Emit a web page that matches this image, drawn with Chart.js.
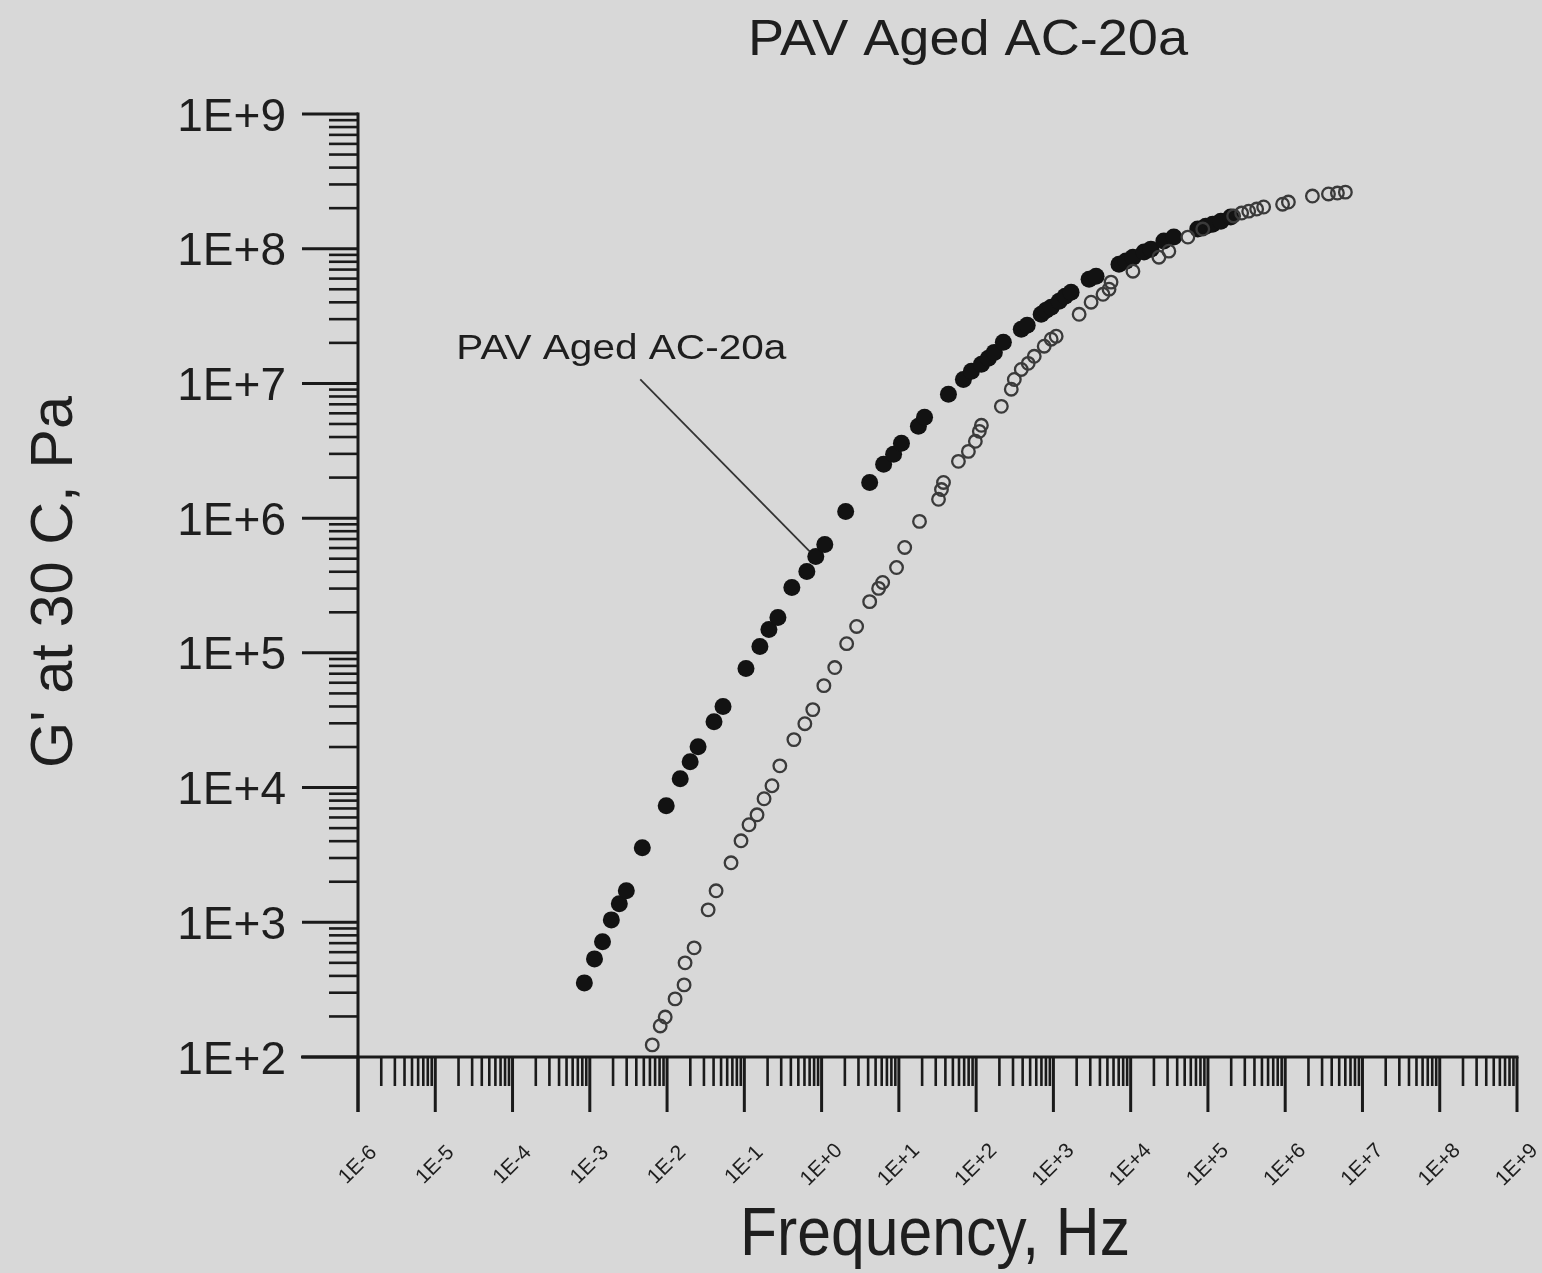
<!DOCTYPE html>
<html>
<head>
<meta charset="utf-8">
<script src="https://cdn.jsdelivr.net/npm/chart.js@4.4.1/dist/chart.umd.min.js"></script>
<style>
  html, body { margin: 0; padding: 0; background: #d8d8d8; overflow: hidden; }
  canvas { display: block; }
</style>
</head>
<body>
<canvas id="gChart" width="1542" height="1273"></canvas>
<script>
// tick labels
const xTickLabels = ['1E-6', '1E-5', '1E-4', '1E-3', '1E-2', '1E-1', '1E+0', '1E+1',
                     '1E+2', '1E+3', '1E+4', '1E+5', '1E+6', '1E+7', '1E+8', '1E+9'];
const yTickLabels = ['1E+2', '1E+3', '1E+4', '1E+5', '1E+6', '1E+7', '1E+8', '1E+9'];

// filled circles
const filledFreq = [8.5e-4, 1.15e-3, 1.46e-3, 1.90e-3, 2.41e-3, 2.97e-3, 4.78e-3, 9.75e-3, 1.48e-2, 1.99e-2,
  2.52e-2, 4.05e-2, 5.30e-2, 0.105, 0.159, 0.208, 0.272, 0.412, 0.644, 0.841,
  1.10, 2.05, 4.19, 6.35, 8.55, 10.8, 17.9, 21.5, 43.8, 68.4,
  86.9, 117, 144, 172, 225, 384, 458, 695, 807, 936,
  1186, 1419, 1694, 2897, 3565, 7063, 8690, 1.07e4, 1.49e4, 1.83e4,
  2.69e4, 3.62e4, 7.39e4, 9.38e4, 1.15e5, 1.47e5, 1.97e5];
const filledG = [355, 535, 716, 1042, 1371, 1713, 3573, 7328, 1.164e4, 1.556e4,
  2.01e4, 3.08e4, 3.99e4, 7.64e4, 1.114e5, 1.49e5, 1.83e5, 3.06e5, 4.02e5, 5.20e5,
  6.38e5, 1.12e6, 1.84e6, 2.51e6, 2.98e6, 3.59e6, 4.81e6, 5.60e6, 8.30e6, 1.07e7,
  1.23e7, 1.39e7, 1.54e7, 1.70e7, 2.02e7, 2.52e7, 2.70e7, 3.26e7, 3.50e7, 3.68e7,
  4.08e7, 4.44e7, 4.76e7, 5.94e7, 6.25e7, 7.68e7, 8.09e7, 8.65e7, 9.44e7, 9.93e7,
  1.14e8, 1.22e8, 1.40e8, 1.47e8, 1.52e8, 1.60e8, 1.72e8];

// open circles
const openFreq = [6.43e-3, 8.15e-3, 9.46e-3, 1.27e-2, 1.66e-2, 1.71e-2, 2.24e-2, 3.40e-2, 4.31e-2, 6.73e-2,
  9.06e-2, 0.115, 0.146, 0.180, 0.228, 0.288, 0.438, 0.607, 0.769, 1.07,
  1.48, 2.11, 2.84, 4.19, 5.47, 6.17, 9.33, 11.9, 18.5, 32.6,
  35.6, 37.8, 59.0, 79.4, 97.7, 110, 117, 212, 285, 312,
  384, 472, 565, 760, 936, 1086, 2153, 3076, 4385, 5248,
  5572, 1.07e4, 2.32e4, 3.12e4, 5.50e4, 8.57e4, 2.15e5, 2.73e5, 3.37e5, 4.27e5,
  5.26e5, 9.25e5, 1.10e6, 2.25e6, 3.63e6, 4.74e6, 6.01e6];
const openG = [123, 170, 198, 270, 343, 500, 646, 1237, 1713, 2765,
  4027, 5297, 6281, 8262, 1.032e4, 1.45e4, 2.27e4, 2.98e4, 3.79e4, 5.71e4,
  7.78e4, 1.17e5, 1.57e5, 2.40e5, 3.01e5, 3.33e5, 4.30e5, 6.06e5, 9.46e5, 1.38e6,
  1.63e6, 1.84e6, 2.64e6, 3.13e6, 3.72e6, 4.41e6, 4.89e6, 6.76e6, 9.06e6, 1.07e7,
  1.27e7, 1.41e7, 1.59e7, 1.89e7, 2.13e7, 2.24e7, 3.26e7, 4.01e7, 4.59e7, 5.01e7,
  5.65e7, 6.81e7, 8.65e7, 9.59e7, 1.22e8, 1.40e8, 1.75e8, 1.84e8, 1.90e8, 1.97e8,
  2.04e8, 2.14e8, 2.22e8, 2.46e8, 2.55e8, 2.59e8, 2.63e8];

// annotation: label anchor and arrow end, in data units
const noteText = 'PAV Aged AC-20a';
const noteLabel = [2.56e-3, 1.51e7];
const noteFrom = [4.5e-3, 1.07e7];
const noteTo = [0.70, 5.66e5];

const FONT = '"Liberation Sans", Arial, sans-serif';
const INK = '#1a1a1a';

function toPoints(xs, ys) {
  return xs.map((x, i) => ({ x: x, y: ys[i] }));
}

// draw text squeezed/stretched to a given width
function fitText(ctx, text, x, y, size, width, angle) {
  ctx.save();
  ctx.translate(x, y);
  ctx.rotate(angle || 0);
  ctx.font = size + 'px ' + FONT;
  ctx.textAlign = 'center';
  ctx.textBaseline = 'alphabetic';
  const w = ctx.measureText(text).width;
  ctx.scale(width / w, 1);
  ctx.fillText(text, 0, 0);
  ctx.restore();
}

const axesPlugin = {
  id: 'axesPlugin',
  beforeDraw(chart) {
    const ctx = chart.ctx;
    ctx.save();
    ctx.fillStyle = '#d8d8d8';
    ctx.fillRect(0, 0, chart.width, chart.height);
    ctx.restore();
  },
  beforeDatasetsDraw(chart) {
    const ctx = chart.ctx;
    const xs = chart.scales.x, ys = chart.scales.y;
    const left = chart.chartArea.left, bottom = chart.chartArea.bottom;
    ctx.save();
    ctx.strokeStyle = INK;
    ctx.fillStyle = INK;
    ctx.lineCap = 'butt';

    // axis lines
    ctx.lineWidth = 3;
    ctx.beginPath();
    ctx.moveTo(left - 57, bottom);
    ctx.lineTo(xs.getPixelForValue(1e9) + 1.5, bottom);
    ctx.moveTo(left, bottom + 55);
    ctx.lineTo(left, ys.getPixelForValue(1e9) - 1.5);
    ctx.stroke();

    // x ticks
    for (let e = -6; e <= 9; e++) {
      const px = xs.getPixelForValue(Math.pow(10, e));
      ctx.lineWidth = 3;
      ctx.beginPath();
      ctx.moveTo(px, bottom);
      ctx.lineTo(px, bottom + 55);
      ctx.stroke();
      if (e < 9) {
        ctx.lineWidth = 2.6;
        for (let m = 2; m <= 9; m++) {
          const mx = xs.getPixelForValue(m * Math.pow(10, e));
          ctx.beginPath();
          ctx.moveTo(mx, bottom);
          ctx.lineTo(mx, bottom + 29);
          ctx.stroke();
        }
      }
    }
    // y ticks
    for (let e = 2; e <= 9; e++) {
      const py = ys.getPixelForValue(Math.pow(10, e));
      ctx.lineWidth = 3;
      ctx.beginPath();
      ctx.moveTo(left - 56, py);
      ctx.lineTo(left, py);
      ctx.stroke();
      if (e < 9) {
        ctx.lineWidth = 2.6;
        for (let m = 2; m <= 9; m++) {
          const my = ys.getPixelForValue(m * Math.pow(10, e));
          ctx.beginPath();
          ctx.moveTo(left - 29, my);
          ctx.lineTo(left, my);
          ctx.stroke();
        }
      }
    }

    // tick labels
    ctx.fillStyle = '#1e1e1e';
    xTickLabels.forEach((lab, i) => {
      const px = xs.getPixelForValue(Math.pow(10, i - 6));
      ctx.save();
      ctx.translate(px, 1165);
      ctx.rotate(-Math.PI / 4);
      ctx.font = '21px ' + FONT;
      ctx.textAlign = 'center';
      ctx.textBaseline = 'middle';
      ctx.fillText(lab, 0, 0);
      ctx.restore();
    });
    yTickLabels.forEach((lab, i) => {
      const py = ys.getPixelForValue(Math.pow(10, i + 2));
      ctx.font = '46px ' + FONT;
      ctx.textAlign = 'right';
      ctx.textBaseline = 'alphabetic';
      ctx.fillText(lab, 286, py + 16.5);
    });

    // titles
    fitText(ctx, 'PAV Aged AC-20a', 968, 55, 50, 440, 0);
    fitText(ctx, 'Frequency, Hz', 935, 1255, 68, 390, 0);
    fitText(ctx, "G' at 30 C, Pa", 72, 582, 60, 372, -Math.PI / 2);

    // annotation
    const lx = xs.getPixelForValue(noteLabel[0]), ly = ys.getPixelForValue(noteLabel[1]);
    fitText(ctx, noteText, lx, ly, 35, 330, 0);
    ctx.strokeStyle = '#333';
    ctx.lineWidth = 1.8;
    ctx.beginPath();
    ctx.moveTo(xs.getPixelForValue(noteFrom[0]), ys.getPixelForValue(noteFrom[1]));
    ctx.lineTo(xs.getPixelForValue(noteTo[0]), ys.getPixelForValue(noteTo[1]));
    ctx.stroke();
    ctx.restore();
  }
};

const gCtx = document.getElementById('gChart').getContext('2d');

let gChart = new Chart(gCtx, {
  type: 'scatter',
  data: {
    datasets: [{
      label: 'open',
      data: toPoints(openFreq, openG),
      pointRadius: 6.3,
      pointBorderWidth: 2.3,
      pointBorderColor: '#3a3a3a',
      pointBackgroundColor: 'rgba(0,0,0,0)'
    }, {
      label: 'filled',
      data: toPoints(filledFreq, filledG),
      pointRadius: 8.5,
      pointBorderWidth: 0,
      pointBackgroundColor: '#121212'
    }]
  },
  options: {
    responsive: false,
    devicePixelRatio: 1,
    animation: false,
    events: [],
    layout: { padding: { left: 358, right: 25, top: 114, bottom: 216 } },
    scales: {
      x: { type: 'logarithmic', min: 1e-6, max: 1e9, display: false },
      y: { type: 'logarithmic', min: 100, max: 1e9, display: false }
    },
    plugins: {
      legend: { display: false },
      tooltip: { enabled: false },
      title: { display: false }
    }
  },
  plugins: [axesPlugin]
});
</script>
</body>
</html>
